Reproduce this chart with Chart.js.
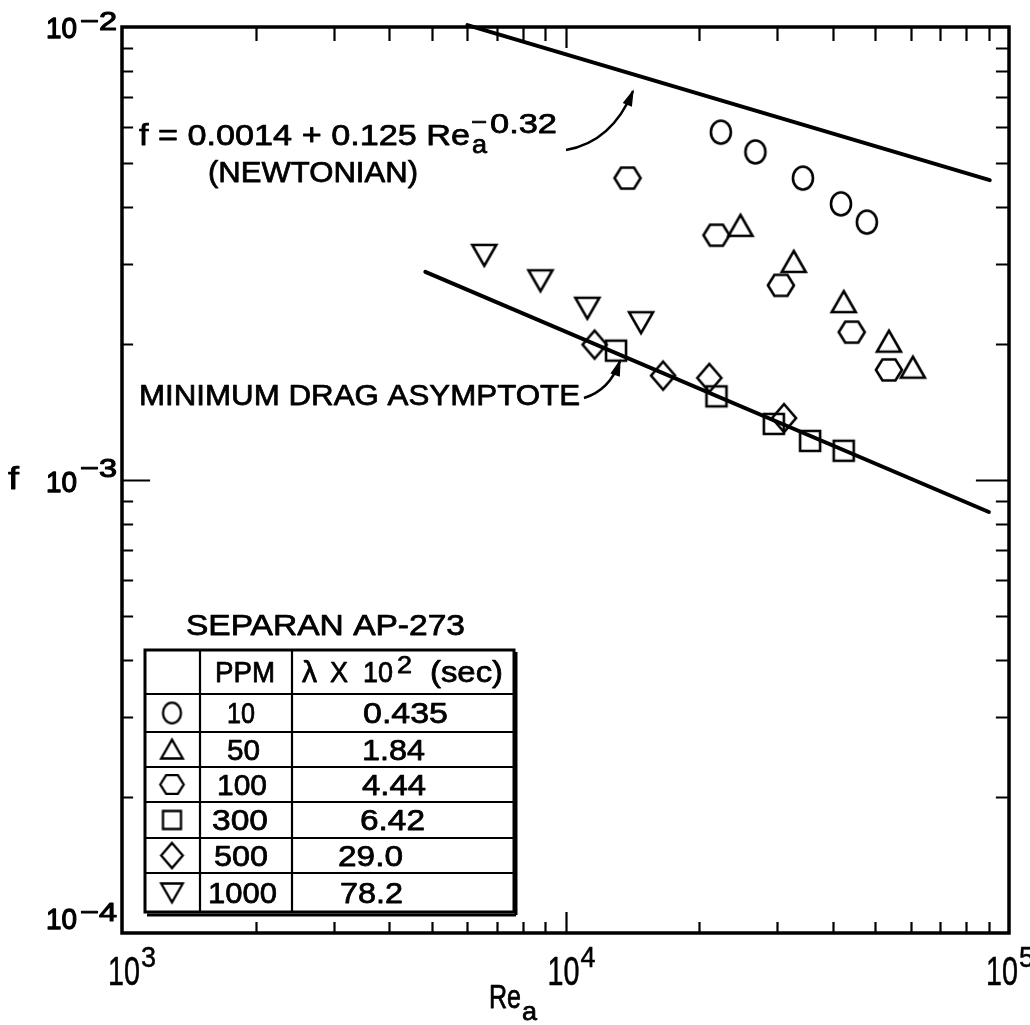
<!DOCTYPE html>
<html>
<head>
<meta charset="utf-8">
<script src="https://cdn.jsdelivr.net/npm/chart.js@4.4.1/dist/chart.umd.min.js"></script>
<style>
  html, body { margin: 0; padding: 0; background: #fff; }
  #wrap { width: 1030px; height: 1025px; }
</style>
</head>
<body>
<div id="wrap"><canvas id="chart" width="1030" height="1025"></canvas></div>
<script>
// Fanning friction factor f against apparent Reynolds number Re_a,
// Separan AP-273 solutions at six concentrations.

// PPM 10
const re10 = [22400, 26800, 34300, 41800, 47800];
const f10 = [0.00586, 0.00530, 0.00464, 0.00407, 0.00371];
// PPM 50
const re50 = [24800, 32700, 42400, 53600, 60700];
const f50 = [0.00364, 0.00303, 0.00247, 0.00202, 0.00177];
// PPM 100
const re100 = [13800, 21900, 30600, 44200, 53600];
const f100 = [0.00464, 0.00347, 0.00269, 0.00212, 0.00175];
// PPM 300
const re300 = [13000, 21900, 29500, 35600, 42400];
const f300 = [0.00193, 0.00153, 0.00133, 0.00122, 0.00116];
// PPM 500
const re500 = [11630, 16600, 21100, 31100];
const f500 = [0.00199, 0.00170, 0.00168, 0.00137];
// PPM 1000
const re1000 = [6560, 8780, 11200, 14800];
const f1000 = [0.00314, 0.00276, 0.00240, 0.00223];

// Reference lines (end points)
const newtonianRe = [6010, 90500];
const newtonianF = [0.01010, 0.00459];
const asymptoteRe = [4830, 90100];
const asymptoteF = [0.00288, 0.000850];

// Legend table rows
const ppmLabels = ['10', '50', '100', '300', '500', '1000'];
const lambdaLabels = ['0.435', '1.84', '4.44', '6.42', '29.0', '78.2'];

// Axis decades
const xDecades = [3, 4, 5];
const yDecades = [-2, -3, -4];

const FONT = '"Liberation Sans", Arial, Helvetica, sans-serif';

function pts(xs, ys) { return xs.map((x, i) => ({ x: x, y: ys[i] })); }

// ---- marker glyphs drawn onto small canvases ----
function glyph(kind, scale) {
  const s = scale || 1;
  const c = document.createElement('canvas');
  const W = Math.ceil(32 * s), H = Math.ceil(34 * s);
  c.width = W; c.height = H;
  const g = c.getContext('2d');
  g.translate(W / 2, H / 2);
  g.scale(s, s);
  g.strokeStyle = '#000';
  g.lineWidth = 2.6;
  g.lineJoin = 'miter';
  g.beginPath();
  if (kind === 'circle') {
    g.ellipse(0, 0, 10, 11.5, 0, 0, Math.PI * 2);
  } else if (kind === 'up') {
    g.moveTo(0, -11); g.lineTo(12, 10); g.lineTo(-12, 10); g.closePath();
  } else if (kind === 'hex') {
    g.moveTo(-13, 0); g.lineTo(-6.5, -10.5); g.lineTo(6.5, -10.5);
    g.lineTo(13, 0); g.lineTo(6.5, 10.5); g.lineTo(-6.5, 10.5); g.closePath();
  } else if (kind === 'square') {
    g.rect(-10, -10, 20, 20);
  } else if (kind === 'diamond') {
    g.moveTo(0, -14); g.lineTo(12, 0); g.lineTo(0, 14); g.lineTo(-12, 0); g.closePath();
  } else if (kind === 'down') {
    g.moveTo(-12, -10); g.lineTo(12, -10); g.lineTo(0, 11); g.closePath();
  }
  g.stroke();
  return c;
}

const kinds = ['circle', 'up', 'hex', 'square', 'diamond', 'down'];
const glyphs = {};
const smallGlyphs = {};
kinds.forEach(k => { glyphs[k] = glyph(k, 1); smallGlyphs[k] = glyph(k, 0.9); });

function markerSet(label, xs, ys, kind) {
  return {
    label: label,
    data: pts(xs, ys),
    pointStyle: glyphs[kind],
    pointRadius: 12,
    showLine: false,
    borderColor: '#000',
    backgroundColor: 'rgba(0,0,0,0)'
  };
}

function lineSet(label, xs, ys) {
  return {
    label: label,
    data: pts(xs, ys),
    showLine: true,
    pointRadius: 0,
    borderColor: '#000',
    borderWidth: 4,
    borderCapStyle: 'round',
    fill: false,
    clip: false
  };
}

// ---- text helpers ----
// draws s with its left edge at x, baseline y, squeezed/stretched to width,
// with a thin outline to give the heavier print look
function text(ctx, s, x, y, size, width, bold) {
  ctx.save();
  ctx.font = size + 'px ' + FONT;
  ctx.textBaseline = 'alphabetic';
  ctx.textAlign = 'left';
  ctx.fillStyle = '#000';
  ctx.strokeStyle = '#000';
  const w = ctx.measureText(s).width;
  const k = width ? width / w : 1;
  ctx.translate(x, y);
  ctx.scale(k, 1);
  ctx.fillText(s, 0, 0);
  const b = bold === undefined ? 0.75 : bold;
  if (b > 0) {
    ctx.lineWidth = b;
    ctx.lineJoin = 'round';
    ctx.strokeText(s, 0, 0);
  }
  ctx.restore();
}

function arrow(ctx, x0, y0, cx, cy, x1, y1) {
  ctx.save();
  ctx.strokeStyle = '#000';
  ctx.fillStyle = '#000';
  ctx.lineWidth = 2.4;
  ctx.beginPath();
  ctx.moveTo(x0, y0);
  ctx.quadraticCurveTo(cx, cy, x1, y1);
  ctx.stroke();
  const a = Math.atan2(y1 - cy, x1 - cx);
  const L = 15, W = 5;
  ctx.beginPath();
  ctx.moveTo(x1 + 2 * Math.cos(a), y1 + 2 * Math.sin(a));
  ctx.lineTo(x1 - L * Math.cos(a) + W * Math.sin(a), y1 - L * Math.sin(a) - W * Math.cos(a));
  ctx.lineTo(x1 - L * Math.cos(a) - W * Math.sin(a), y1 - L * Math.sin(a) + W * Math.cos(a));
  ctx.closePath();
  ctx.fill();
  ctx.restore();
}

// ---- frame, ticks, labels, annotations, legend table ----
const decorations = {
  id: 'decorations',
  afterDraw(chart) {
    const ctx = chart.ctx;
    const xs = chart.scales.x, ys = chart.scales.y;
    const L = xs.left, R = xs.right, T = ys.top, B = ys.bottom;

    ctx.save();
    ctx.strokeStyle = '#000';
    ctx.lineCap = 'square';

    // frame
    ctx.lineWidth = 3.5;
    ctx.strokeRect(L, T, R - L, B - T);

    // x ticks (inward on bottom and top)
    ctx.lineWidth = 2.2;
    for (let d = 3; d <= 4; d++) {
      for (let m = 1; m <= 9; m++) {
        const v = m * Math.pow(10, d);
        if (v <= xs.min) continue;
        const px = Math.round(xs.getPixelForValue(v)) + 0.5;
        const major = m === 1;
        ctx.beginPath();
        ctx.moveTo(px, B); ctx.lineTo(px, B - (major ? 20 : 10));
        ctx.moveTo(px, T); ctx.lineTo(px, T + (major ? 20 : 13));
        ctx.stroke();
      }
    }
    // y ticks (inward on left and right)
    for (let d = -4; d <= -3; d++) {
      for (let m = 1; m <= 9; m++) {
        const v = m * Math.pow(10, d);
        if (v <= ys.min) continue;
        const py = Math.round(ys.getPixelForValue(v)) + 0.5;
        const major = m === 1;
        ctx.beginPath();
        ctx.moveTo(L, py); ctx.lineTo(L + (major ? 27 : 10), py);
        ctx.moveTo(R, py); ctx.lineTo(R - (major ? 32 : 12), py);
        ctx.stroke();
      }
    }
    ctx.restore();

    // y tick labels: [baseline of "10", baseline of exponent] relative to tick
    const yOff = { '-2': [11, 3], '-3': [12, -3], '-4': [-4, -12] };
    yDecades.forEach(e => {
      const py = ys.getPixelForValue(Math.pow(10, e));
      const o = yOff[String(e)];
      text(ctx, '10', 46, py + o[0], 30, 31, 1.3);
      text(ctx, '\u2212' + Math.abs(e), 80, py + o[1], 26, 37, 1.1);
    });
    // x tick labels
    const xOff = { 3: -14, 4: -18, 5: -23 };
    xDecades.forEach(e => {
      const px = xs.getPixelForValue(Math.pow(10, e));
      text(ctx, '10', px + xOff[e], B + 52, 40, 32, 0.5);
      text(ctx, String(e), px + xOff[e] + 33, B + 34, 30, 15, 0.5);
    });

    // axis titles
    text(ctx, 'f', 8, 489, 31, 11);
    text(ctx, 'Re', 489, 1008, 33, 32);
    text(ctx, 'a', 522, 1020, 26, 15);

    // Newtonian label
    text(ctx, 'f = 0.0014 + 0.125 Re', 139, 145, 29, 331);
    text(ctx, 'a', 472, 153, 25, 15);
    text(ctx, '\u2212', 471, 130, 24, 16);
    text(ctx, '0.32', 490, 133, 27, 67);
    text(ctx, '(NEWTONIAN)', 208, 182, 29, 210);
    arrow(ctx, 566, 150, 612, 142, 633, 91);

    // asymptote label
    text(ctx, 'MINIMUM DRAG ASYMPTOTE', 139, 405, 30, 441);
    arrow(ctx, 584, 398, 610, 390, 620, 361);

    // legend table
    const tL = 145, tR = 514, tT = 650, tB = 912;
    const colA = 200, colB = 292;
    const rows = [694, 732, 767, 802, 838, 873];
    text(ctx, 'SEPARAN AP-273', 186, 635, 29, 279);
    ctx.save();
    ctx.strokeStyle = '#000';
    ctx.lineWidth = 2.2;
    ctx.beginPath();
    rows.forEach(r => { ctx.moveTo(tL, r); ctx.lineTo(tR, r); });
    ctx.moveTo(colA, tT); ctx.lineTo(colA, tB);
    ctx.moveTo(colB, tT); ctx.lineTo(colB, tB);
    ctx.stroke();
    ctx.lineWidth = 3;
    ctx.strokeRect(tL, tT, tR - tL, tB - tT);
    ctx.beginPath();
    ctx.moveTo(tL + 2, tB + 3); ctx.lineTo(tR + 2, tB + 3);
    ctx.moveTo(tR + 2, tT + 2); ctx.lineTo(tR + 2, tB + 3);
    ctx.stroke();
    ctx.restore();

    text(ctx, 'PPM', 215, 682, 29, 60);
    text(ctx, '\u03bb', 302, 682, 29, 15);
    text(ctx, 'X', 330, 682, 29, 18);
    text(ctx, '10', 363, 682, 29, 30);
    text(ctx, '2', 397, 673, 24, 15);
    text(ctx, '(sec)', 430, 682, 29, 73);

    const bounds = [tT].concat(rows).concat([tB]);
    const lamX = [363, 362, 362, 360, 338, 340];
    const lamW = [85, 63, 64, 65, 65, 63];
    const ppmX = [227, 227, 217, 212, 214, 208];
    const ppmW = [28, 33, 50, 56, 54, 69];
    for (let i = 0; i < 6; i++) {
      const top = bounds[i + 1], bot = bounds[i + 2];
      const mid = (top + bot) / 2;
      const g = smallGlyphs[kinds[i]];
      ctx.drawImage(g, 172 - g.width / 2, mid - g.height / 2);
      text(ctx, ppmLabels[i], ppmX[i], mid + 10, 29, ppmW[i]);
      text(ctx, lambdaLabels[i], lamX[i], mid + 10, 29, lamW[i]);
    }
  }
};

new Chart(document.getElementById('chart'), {
  type: 'scatter',
  data: {
    datasets: [
      lineSet('Newtonian', newtonianRe, newtonianF),
      lineSet('Minimum drag asymptote', asymptoteRe, asymptoteF),
      markerSet('10 PPM', re10, f10, 'circle'),
      markerSet('50 PPM', re50, f50, 'up'),
      markerSet('100 PPM', re100, f100, 'hex'),
      markerSet('300 PPM', re300, f300, 'square'),
      markerSet('500 PPM', re500, f500, 'diamond'),
      markerSet('1000 PPM', re1000, f1000, 'down')
    ]
  },
  options: {
    responsive: false,
    animation: false,
    devicePixelRatio: 1,
    layout: { padding: { left: 122, right: 21, top: 27, bottom: 92 } },
    plugins: { legend: { display: false }, tooltip: { enabled: false } },
    scales: {
      x: { type: 'logarithmic', min: 1000, max: 100000, display: false },
      y: { type: 'logarithmic', min: 0.0001, max: 0.01, display: false }
    }
  },
  plugins: [decorations]
});
</script>
</body>
</html>
